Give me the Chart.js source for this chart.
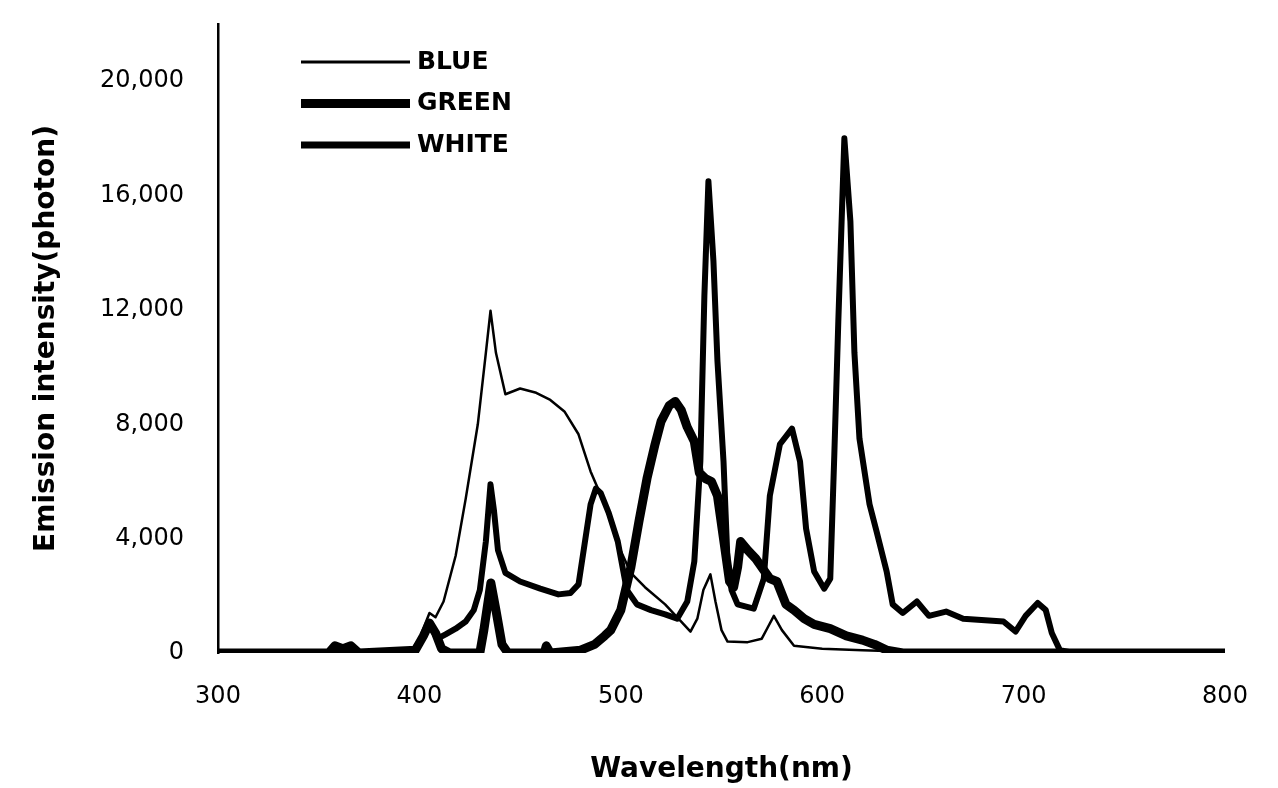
<!DOCTYPE html>
<html>
<head>
<meta charset="utf-8">
<script src="https://cdn.jsdelivr.net/npm/chart.js@4/dist/chart.umd.min.js"></script>
<style>
  body { margin: 0; background: #fff; }
  canvas { display: block; }
</style>
</head>
<body>
<canvas id="spectrum" width="1278" height="788"></canvas>
<script>
// wavelength (nm) / intensity pairs
const blueNm = [300, 395, 400, 405, 408, 412, 418, 423, 429, 433, 435.3, 438, 442.7, 450, 458, 465, 472, 479, 485, 492, 498.5, 505, 512, 522, 530, 534.6, 538, 541, 544.5, 547, 550, 553, 563, 570, 573, 576, 580, 586, 600, 620, 640, 700, 800];
const blueVal = [0, 0, 500, 1400, 1250, 1800, 3400, 5400, 8000, 10500, 11970, 10500, 9050, 9250, 9100, 8850, 8450, 7650, 6350, 5200, 3800, 2800, 2300, 1700, 1100, 750, 1200, 2200, 2750, 1800, 800, 400, 380, 500, 900, 1300, 800, 250, 150, 100, 50, 0, 0];

const greenNm = [300, 355, 358, 362, 366, 370, 398, 402, 405, 408, 411, 415, 430, 432, 435.5, 438, 441, 444, 462, 463, 465, 480, 487, 492, 495, 500, 505, 509, 513, 517, 520, 524, 527, 530, 533, 536.5, 539, 542, 545, 548, 551, 554, 556, 558, 559.5, 563, 567, 571, 574, 577.5, 582, 586, 591, 596, 604, 612, 620, 626, 632, 640, 800];
const greenVal = [0, 0, 250, 150, 250, 0, 100, 600, 1050, 700, 150, 0, 0, 800, 2450, 1500, 300, 0, 0, 250, 0, 100, 300, 600, 800, 1500, 3000, 4600, 6100, 7300, 8100, 8650, 8800, 8500, 7900, 7400, 6300, 6100, 6000, 5500, 4000, 2500, 2300, 3000, 3900, 3600, 3300, 2900, 2600, 2500, 1700, 1500, 1200, 1000, 850, 600, 450, 300, 100, 0, 0];

const whiteNm = [300, 395, 400, 405, 409, 413, 418, 423, 427, 430, 433, 435.3, 437, 439, 442.7, 450, 460, 469, 475, 479, 482, 485, 487.6, 490, 494, 498.5, 503, 508, 515, 522, 528, 533, 536.5, 539.5, 541.5, 543.5, 546, 548, 551, 553, 555, 558, 566, 571, 574, 579, 585, 589, 592, 596, 601, 604, 606, 608, 611, 614, 616, 618.5, 623.5, 627, 632, 635, 640, 647, 653, 661.5, 670, 690, 696, 701, 707, 711, 714, 718, 725, 800];
const whiteVal = [0, 0, 300, 1000, 500, 650, 850, 1100, 1500, 2200, 3900, 5900, 5000, 3600, 2800, 2500, 2250, 2050, 2100, 2400, 3800, 5200, 5750, 5600, 4900, 3900, 2200, 1700, 1500, 1350, 1200, 1800, 3200, 6700, 12500, 16500, 13700, 10200, 6700, 3200, 2200, 1700, 1550, 2600, 5500, 7300, 7850, 6700, 4350, 2850, 2250, 2600, 6900, 11600, 18000, 15100, 10500, 7500, 5200, 4250, 2850, 1700, 1400, 1800, 1300, 1450, 1200, 1100, 750, 1300, 1750, 1500, 700, 100, 0, 0];

const xTicks = [300, 400, 500, 600, 700, 800];
const yTicks = [0, 4000, 8000, 12000, 16000, 20000];

function toPoints(nm, val) {
  return nm.map((x, i) => ({ x: x, y: val[i] }));
}

// legend drawn as short line samples inside the plot, top left
const inlineLegend = {
  id: 'inlineLegend',
  afterDatasetsDraw(chart) {
    const { ctx, chartArea } = chart;
    const x0 = chartArea.left + 83;
    const x1 = x0 + 109;
    ctx.save();
    ctx.font = 'bold 25px "DejaVu Sans"';
    ctx.textBaseline = 'middle';
    ctx.fillStyle = '#000';
    chart.data.datasets.forEach((ds, i) => {
      const y = chartArea.top + 38 + i * 41.5;
      ctx.beginPath();
      ctx.lineWidth = ds.legendWidth;
      ctx.strokeStyle = '#000';
      ctx.moveTo(x0, y);
      ctx.lineTo(x1, y);
      ctx.stroke();
      ctx.fillText(ds.label, x1 + 7, y);
    });
    ctx.restore();
  }
};

const ctx = document.getElementById('spectrum').getContext('2d');

new Chart(ctx, {
  type: 'line',
  data: {
    datasets: [
      { label: 'BLUE', data: toPoints(blueNm, blueVal), borderWidth: 2.5, legendWidth: 3 },
      { label: 'GREEN', data: toPoints(greenNm, greenVal), borderWidth: 9, legendWidth: 9 },
      { label: 'WHITE', data: toPoints(whiteNm, whiteVal), borderWidth: 6, legendWidth: 7 }
    ].map(ds => Object.assign(ds, {
      borderColor: '#000',
      backgroundColor: '#000',
      pointRadius: 0,
      tension: 0,
      borderJoinStyle: 'round',
      borderCapStyle: 'round',
      fill: false
    }))
  },
  options: {
    responsive: false,
    animation: false,
    layout: { padding: { left: 0, right: 53, top: 24, bottom: 0 } },
    plugins: {
      legend: { display: false },
      tooltip: { enabled: false }
    },
    scales: {
      x: {
        type: 'linear',
        min: 300,
        max: 800,
        afterBuildTicks: axis => { axis.ticks = xTicks.map(v => ({ value: v })); },
        afterFit: axis => { axis.height = 135; },
        grid: { display: false, drawTicks: false },
        border: { display: false },
        ticks: {
          color: '#000',
          padding: 29,
          maxRotation: 0,
          font: { family: 'DejaVu Sans', size: 24 }
        },
        title: {
          display: true,
          text: 'Wavelength(nm)',
          color: '#000',
          padding: { top: 0, bottom: 1 },
          font: { family: 'DejaVu Sans', size: 28, weight: 'bold' }
        }
      },
      y: {
        min: 0,
        max: 22000,
        afterBuildTicks: axis => { axis.ticks = yTicks.map(v => ({ value: v })); },
        afterFit: axis => {
          axis.width = 218;
          axis.paddingTop = 0;
          axis.paddingBottom = 0;
        },
        grid: { display: false, drawTicks: false },
        border: { display: true, color: '#000', width: 2.5 },
        ticks: {
          color: '#000',
          padding: 34,
          font: { family: 'DejaVu Sans', size: 24 },
          callback: v => v.toLocaleString('en-US')
        },
        title: {
          display: true,
          text: 'Emission intensity(photon)',
          color: '#000',
          padding: { top: 30, bottom: 0 },
          font: { family: 'DejaVu Sans', size: 28, weight: 'bold' }
        }
      }
    }
  },
  plugins: [inlineLegend]
});
</script>
</body>
</html>
